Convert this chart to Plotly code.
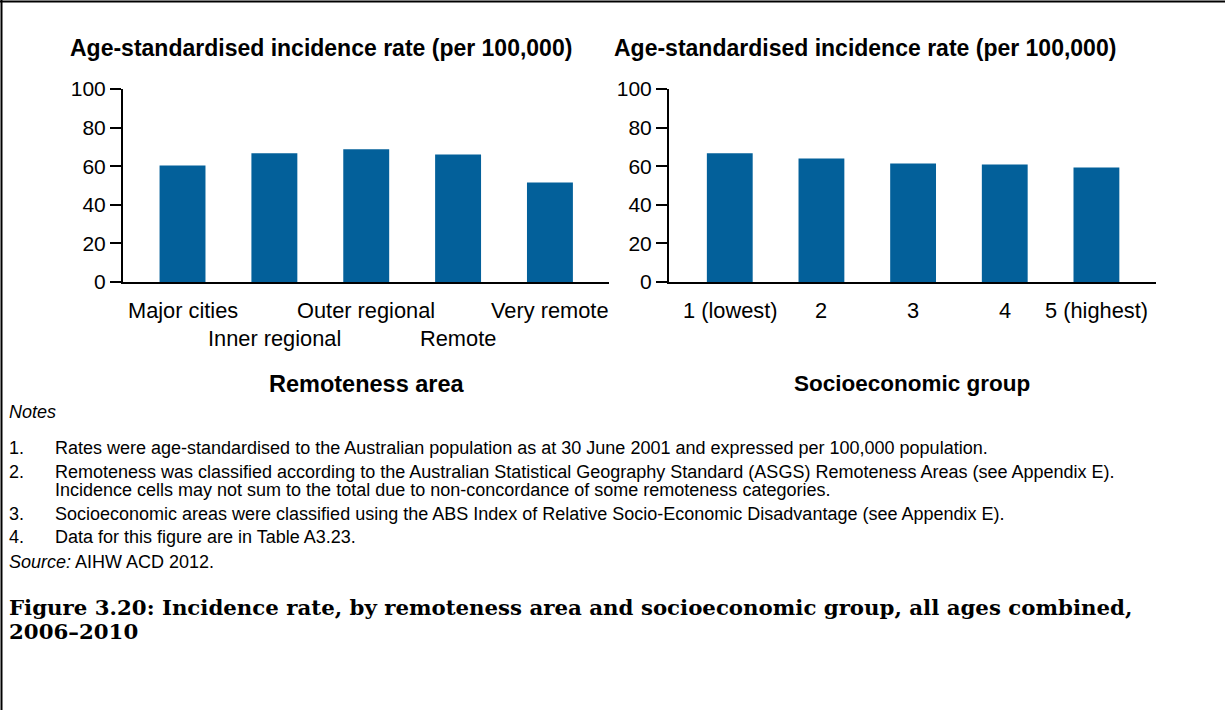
import plotly.graph_objects as go

W, H = 1225, 710

remote_cats = ["Major cities", "Inner regional", "Outer regional", "Remote", "Very remote"]
remote_vals = [60.4, 66.7, 68.8, 66.1, 51.5]
seg_cats = ["1 (lowest)", "2", "3", "4", "5 (highest)"]
seg_vals = [66.7, 64.0, 61.4, 60.9, 59.3]
y_ticks = [0, 20, 40, 60, 80, 100]

y_title = "Age-standardised incidence rate (per 100,000)"
x_title_left = "Remoteness area"
x_title_right = "Socioeconomic group"

notes_num = ["1.", "2.", "", "3.", "4."]
notes_txt = [
    "Rates were age-standardised to the Australian population as at 30 June 2001 and expressed per 100,000 population.",
    "Remoteness was classified according to the Australian Statistical Geography Standard (ASGS) Remoteness Areas (see Appendix E).",
    "Incidence cells may not sum to the total due to non-concordance of some remoteness categories.",
    "Socioeconomic areas were classified using the ABS Index of Relative Socio-Economic Disadvantage (see Appendix E).",
    "Data for this figure are in Table A3.23.",
]
notes_y = [448, 472, 490, 514, 537]
caption = ["Figure 3.20: Incidence rate, by remoteness area and socioeconomic group, all ages combined,",
           "2006\u20132010"]

BAR = "#03609a"
SANS = "Liberation Sans, Arial, sans-serif"
SERIF = "DejaVu Serif, serif"
NOTE_SIZE = 18


def px(x):
    return x / W


def py(y):
    return 1 - y / H


fig = go.Figure()
fig.add_trace(go.Bar(x=remote_cats, y=remote_vals, marker_color=BAR, xaxis="x", yaxis="y",
                     hoverinfo="x+y"))
fig.add_trace(go.Bar(x=seg_cats, y=seg_vals, marker_color=BAR, xaxis="x2", yaxis="y2",
                     hoverinfo="x+y"))

ydom = [py(282), py(89)]
xaxis_common = dict(type="category", showline=True, linecolor="black", linewidth=2,
                    ticks="", showticklabels=False, showgrid=False, zeroline=False,
                    fixedrange=True, automargin=False)
yaxis_common = dict(range=[0, 100], tickvals=y_ticks, ticks="outside", ticklen=11,
                    tickwidth=2, tickcolor="black", showline=True, linecolor="black",
                    linewidth=2, showgrid=False, zeroline=False, automargin=False,
                    tickfont=dict(family=SANS, size=21, color="black"), fixedrange=True)

fig.update_layout(
    template="none",
    width=W, height=H, autosize=False,
    margin=dict(l=0, r=0, t=0, b=0, pad=0),
    paper_bgcolor="white", plot_bgcolor="white",
    showlegend=False, bargap=0.5,
    xaxis=dict(domain=[px(123), px(609)], range=[-0.648, 4.643], anchor="y", **xaxis_common),
    yaxis=dict(domain=ydom, anchor="x", **yaxis_common),
    xaxis2=dict(domain=[px(669), px(1156)], range=[-0.663, 4.65], anchor="y2", **xaxis_common),
    yaxis2=dict(domain=ydom, anchor="x2", **yaxis_common),
)

ann = []
# panel titles
for x0 in (68, 612):
    ann.append(dict(text=f"<b>{y_title}</b>", x=px(x0), y=py(48), xref="paper", yref="paper",
                    xanchor="left", yanchor="middle", showarrow=False,
                    font=dict(family=SANS, size=23, color="black")))
# category labels (staggered on the left panel)
for i, c in enumerate(remote_cats):
    ann.append(dict(text=c, x=i, xref="x", y=py(310 if i % 2 == 0 else 338), yref="paper",
                    xanchor="center", yanchor="middle", showarrow=False,
                    font=dict(family=SANS, size=21.8, color="black")))
for i, c in enumerate(seg_cats):
    ann.append(dict(text=c, x=i, xref="x2", y=py(310), yref="paper",
                    xanchor="center", yanchor="middle", showarrow=False,
                    font=dict(family=SANS, size=21.8, color="black")))
# x titles
ann.append(dict(text=f"<b>{x_title_left}</b>", x=px(367), y=py(384), xref="paper", yref="paper",
                xanchor="center", yanchor="middle", showarrow=False,
                font=dict(family=SANS, size=23.5, color="black")))
ann.append(dict(text=f"<b>{x_title_right}</b>", x=px(912), y=py(384), xref="paper", yref="paper",
                xanchor="center", yanchor="middle", showarrow=False,
                font=dict(family=SANS, size=22.5, color="black")))
# notes
ann.append(dict(text="<i>Notes</i>", x=px(7), y=py(412), xref="paper", yref="paper",
                xanchor="left", yanchor="middle", showarrow=False,
                font=dict(family=SANS, size=NOTE_SIZE, color="black")))
for n, t, yy in zip(notes_num, notes_txt, notes_y):
    if n:
        ann.append(dict(text=n, x=px(7), y=py(yy), xref="paper", yref="paper",
                        xanchor="left", yanchor="middle", showarrow=False,
                        font=dict(family=SANS, size=NOTE_SIZE, color="black")))
    ann.append(dict(text=t, x=px(53), y=py(yy), xref="paper", yref="paper",
                    xanchor="left", yanchor="middle", showarrow=False,
                    font=dict(family=SANS, size=NOTE_SIZE, color="black")))
ann.append(dict(text="<i>Source:</i> AIHW ACD 2012.", x=px(7), y=py(562), xref="paper", yref="paper",
                xanchor="left", yanchor="middle", showarrow=False,
                font=dict(family=SANS, size=NOTE_SIZE, color="black")))
for t, yy in zip(caption, (607, 631)):
    ann.append(dict(text=f"<b>{t}</b>", x=px(7), y=py(yy), xref="paper", yref="paper",
                    xanchor="left", yanchor="middle", showarrow=False,
                    font=dict(family=SERIF, size=21.3, color="black")))
fig.update_layout(annotations=ann)

# frame lines (top and left)
fig.add_shape(type="line", xref="paper", yref="paper", x0=0, x1=1, y0=py(1.5), y1=py(1.5),
              line=dict(color="black", width=2))
fig.add_shape(type="line", xref="paper", yref="paper", x0=px(1.5), x1=px(1.5), y0=0, y1=1,
              line=dict(color="black", width=2))

fig.write_html("out.html", config={"displayModeBar": False},
               post_script="document.body.style.margin='0';document.body.style.padding='0';"
                           "document.body.style.overflow='hidden';")
